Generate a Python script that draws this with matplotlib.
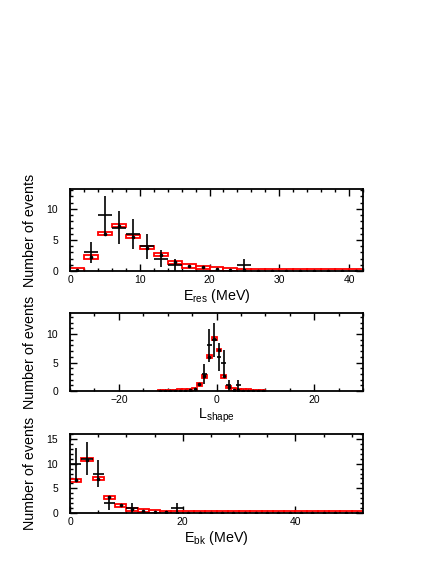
import numpy as np
import matplotlib
matplotlib.use("Agg")
import matplotlib.pyplot as plt
from matplotlib.patches import Rectangle
from matplotlib.ticker import MultipleLocator

plt.rcParams['font.family'] = ['Liberation Sans', 'DejaVu Sans']
plt.rcParams['mathtext.fontset'] = 'custom'
plt.rcParams['mathtext.rm'] = 'Liberation Sans'
plt.rcParams['mathtext.it'] = 'Liberation Sans'

# E_res: bins of 2 MeV from 0 to 42
eres_centers = [1, 3, 5, 7, 9, 11, 13, 15, 17, 19, 21, 23, 25, 27, 29, 31, 33, 35, 37, 39, 41]
eres_mc = [0.15, 2.25, 6.0, 7.3, 5.55, 3.75, 2.65, 1.4, 0.8, 0.6, 0.35, 0.2, 0.1,
           0.08, 0.06, 0.05, 0.05, 0.05, 0.05, 0.05, 0.05]
eres_data = [0, 3, 9, 7, 6, 4, 2, 1, 0, 0, 0, 0, 1, 0, 0, 0, 0, 0, 0, 0, 0]

# L_shape: bins of 1 from -12 to 10
lshape_centers = [-11.5, -10.5, -9.5, -8.5, -7.5, -6.5, -5.5, -4.5, -3.5, -2.5, -1.5,
                  -0.5, 0.5, 1.5, 2.5, 3.5, 4.5, 5.5, 6.5, 7.5, 8.5, 9.5]
lshape_mc = [0.0, 0.0, 0.0, 0.01, 0.02, 0.04, 0.1, 0.3, 1.2, 2.6, 6.0,
             9.2, 7.2, 2.6, 0.7, 0.25, 0.1, 0.04, 0.02, 0.01, 0.0, 0.0]
lshape_data = [0, 0, 0, 0, 0, 0, 0, 0, 0, 3, 8, 9, 6, 5, 1, 0, 1, 0, 0, 0, 0, 0]

# E_bk: bins of 2 MeV from 0 to 52
ebk_centers = [1, 3, 5, 7, 9, 11, 13, 15, 17, 19, 21, 23, 25, 27, 29, 31, 33, 35, 37,
               39, 41, 43, 45, 47, 49, 51]
ebk_mc = [6.6, 10.8, 6.9, 3.2, 1.6, 0.8, 0.5, 0.3, 0.2, 0.1, 0.08, 0.07, 0.06, 0.06,
          0.06, 0.06, 0.06, 0.06, 0.06, 0.06, 0.06, 0.06, 0.06, 0.06, 0.06, 0.06]
ebk_data = [10, 11, 8, 2, 0, 1, 0, 0, 0, 1, 0, 0, 0, 0, 0, 0, 0, 0, 0, 0, 0, 0, 0, 0, 0, 0]

FS = 7.5      # tick labels
LFS = 10.3    # axis titles


def draw_panel(ax, centers, width, mc, data, box_h, xlim, ylim, xmaj, xmin, xlabel):
    centers = np.array(centers, dtype=float)
    mc = np.array(mc, dtype=float)
    data = np.array(data, dtype=float)

    # MC prediction: red boxes with a black dot in the middle
    for c, v in zip(centers, mc):
        r = Rectangle((c - width / 2, v - box_h), width, 2 * box_h,
                      facecolor='white', edgecolor='red', linewidth=1.3, zorder=2)
        ax.add_patch(r)
    ax.plot(centers, mc, 'o', color='black', markersize=1.6, zorder=3)

    # data crosses
    m = data > 0
    ax.errorbar(centers[m], data[m], xerr=width / 2, yerr=np.sqrt(data[m]),
                fmt='none', ecolor='black', elinewidth=1.2, capsize=0, zorder=4)

    ax.set_xlim(*xlim)
    ax.set_ylim(*ylim)
    ax.xaxis.set_major_locator(MultipleLocator(xmaj))
    ax.xaxis.set_minor_locator(MultipleLocator(xmin))
    ax.yaxis.set_major_locator(MultipleLocator(5))
    ax.yaxis.set_minor_locator(MultipleLocator(1))
    ax.tick_params(which='both', direction='in', top=True, right=True, labelsize=FS,
                   width=1.0)
    ax.tick_params(which='major', length=5)
    ax.tick_params(which='minor', length=2.5)
    ax.tick_params(axis='x', pad=3)
    ax.tick_params(axis='y', pad=8.5)
    for s in ax.spines.values():
        s.set_linewidth(1.3)
        s.set_zorder(5)
    ax.set_xlabel(xlabel, fontsize=LFS, labelpad=1)
    ax.set_ylabel('Number of events', fontsize=LFS)
    ax.yaxis.set_label_coords(-0.113, 0.5)


fig = plt.figure(figsize=(4.36, 5.64), dpi=100)
ax1 = fig.add_axes([0.1606, 0.5195, 0.672, 0.1454])
ax2 = fig.add_axes([0.1606, 0.3067, 0.672, 0.1383])
ax3 = fig.add_axes([0.1606, 0.0904, 0.672, 0.1400])

draw_panel(ax1, eres_centers, 2, eres_mc, eres_data, 0.28, (0, 42), (0, 13.2), 10, 2,
           r'E$_{\rm res}$ (MeV)')
draw_panel(ax2, lshape_centers, 1, lshape_mc, lshape_data, 0.25, (-30, 30), (0, 13.7), 20, 5,
           r'L$_{\rm shape}$')
draw_panel(ax3, ebk_centers, 2, ebk_mc, ebk_data, 0.3, (0, 52), (0, 16), 20, 5,
           r'E$_{\rm bk}$ (MeV)')

fig.savefig('out.png', dpi=100)
